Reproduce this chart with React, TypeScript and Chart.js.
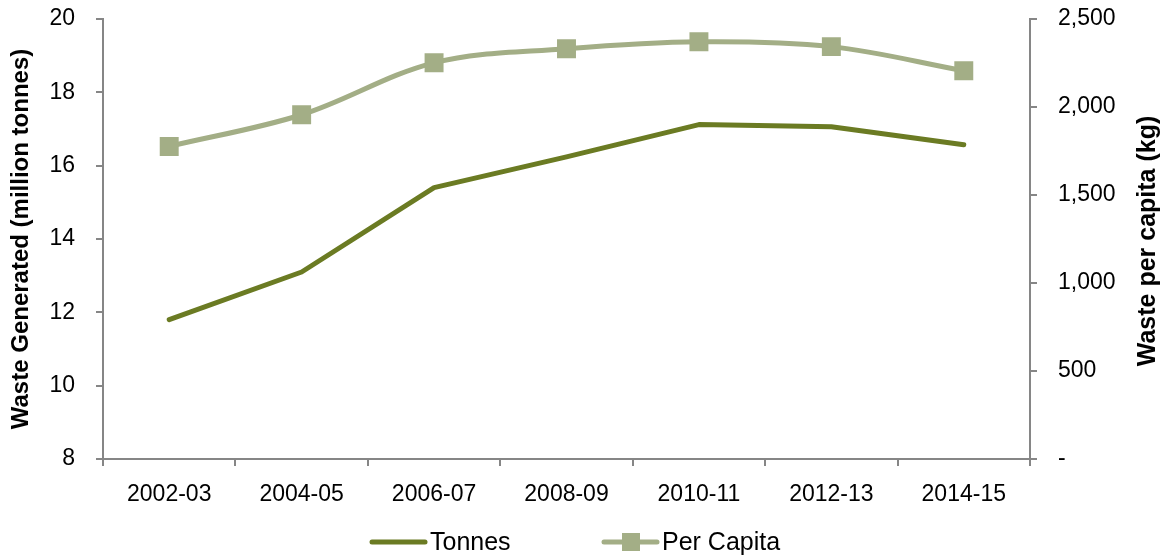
import React, { useEffect, useRef } from "react";
import { Chart, registerables } from "chart.js";

Chart.register(...registerables);

const categories = ["2002-03", "2004-05", "2006-07", "2008-09", "2010-11", "2012-13", "2014-15"];
const tonnes = [11.8, 13.1, 15.4, 16.24, 17.12, 17.06, 16.57];
const perCapita = [1776, 1956, 2251, 2331, 2371, 2343, 2206];
const leftTicks = [8, 10, 12, 14, 16, 18, 20];
const rightTicks = [0, 500, 1000, 1500, 2000, 2500];

const FONT = "'Liberation Sans', Arial, sans-serif";
const DARK = "#6b7b23";
const LIGHT = "#a3ae86";
const AXIS = "#868686";

const customPlugin = {
  id: "customDecor",
  afterDraw(chart: any) {
    const ctx = chart.ctx;
    const area = chart.chartArea;
    ctx.save();
    ctx.fillStyle = "#000";
    ctx.font = `bold 25px ${FONT}`;
    ctx.textAlign = "center";
    ctx.textBaseline = "middle";
    ctx.translate(1148, (area.top + area.bottom) / 2 + 2);
    ctx.rotate(-Math.PI / 2);
    ctx.fillText("Waste per capita (kg)", 0, 0);
    ctx.restore();

    ctx.save();
    const ly = 542;
    ctx.lineCap = "round";
    ctx.lineWidth = 5;
    ctx.strokeStyle = DARK;
    ctx.beginPath();
    ctx.moveTo(372, ly);
    ctx.lineTo(425, ly);
    ctx.stroke();
    ctx.strokeStyle = LIGHT;
    ctx.beginPath();
    ctx.moveTo(604, ly);
    ctx.lineTo(657, ly);
    ctx.stroke();
    ctx.fillStyle = LIGHT;
    ctx.fillRect(631 - 9, ly - 9, 18, 18);
    ctx.fillStyle = "#000";
    ctx.font = `25px ${FONT}`;
    ctx.textAlign = "left";
    ctx.textBaseline = "middle";
    ctx.fillText("Tonnes", 430, ly + 1);
    ctx.fillText("Per Capita", 662, ly + 1);
    ctx.restore();
  },
};

export default function App() {
  const ref = useRef<HTMLCanvasElement | null>(null);
  useEffect(() => {
    if (!ref.current) return;
    const chart = new Chart(ref.current, {
      type: "line",
      data: {
        labels: categories,
        datasets: [
          {
            label: "Tonnes",
            data: tonnes,
            yAxisID: "y",
            borderColor: DARK,
            backgroundColor: DARK,
            borderWidth: 5,
            pointRadius: 0,
            tension: 0,
            borderCapStyle: "round",
            borderJoinStyle: "round",
          },
          {
            label: "Per Capita",
            data: perCapita,
            yAxisID: "y1",
            borderColor: LIGHT,
            backgroundColor: LIGHT,
            borderWidth: 5,
            pointStyle: "rect",
            pointRadius: 13.4,
            pointBorderWidth: 0,
            pointBackgroundColor: LIGHT,
            tension: 0.35,
            borderCapStyle: "round",
          },
        ],
      },
      options: {
        animation: false,
        responsive: false,
        layout: { padding: { top: 19, bottom: 37, left: 0, right: 0 } },
        plugins: { legend: { display: false }, tooltip: { enabled: false } },
        scales: {
          x: {
            type: "category",
            offset: true,
            grid: { display: true, drawOnChartArea: false, drawTicks: true, tickLength: 7, color: AXIS, lineWidth: 2, offset: true },
            border: { display: true, color: AXIS, width: 2 },
            ticks: { color: "#000", font: { family: FONT, size: 23 }, padding: 15, maxRotation: 0, autoSkip: false },
            afterFit: (s: any) => { s.height = 60; s.paddingLeft = 0; s.paddingRight = 0; },
          },
          y: {
            type: "linear",
            position: "left",
            min: 8,
            max: 20,
            afterBuildTicks: (s: any) => { s.ticks = leftTicks.map((v) => ({ value: v })); },
            grid: { display: true, drawOnChartArea: false, tickLength: 7, color: AXIS, lineWidth: 2 },
            border: { display: true, color: AXIS, width: 2 },
            ticks: { color: "#000", font: { family: FONT, size: 23 }, padding: 21 },
            title: { display: true, text: "Waste Generated (million tonnes)", color: "#000", font: { family: FONT, size: 24, weight: "bold" }, padding: { top: 7, bottom: 0 } },
            afterFit: (s: any) => { s.width = 103; s.paddingTop = 0; s.paddingBottom = 0; },
          },
          y1: {
            type: "linear",
            position: "right",
            min: 0,
            max: 2500,
            afterBuildTicks: (s: any) => { s.ticks = rightTicks.map((v) => ({ value: v })); },
            grid: { display: true, drawOnChartArea: false, tickLength: 7, color: AXIS, lineWidth: 2 },
            border: { display: true, color: AXIS, width: 2 },
            ticks: {
              color: "#000",
              font: { family: FONT, size: 23 },
              padding: 21,
              callback: (v: any) => (Number(v) === 0 ? "-" : Number(v).toLocaleString("en-US")),
            },
            afterFit: (s: any) => { s.width = 135; s.paddingTop = 0; s.paddingBottom = 0; },
          },
        },
      },
      plugins: [customPlugin],
    } as any);
    return () => chart.destroy();
  }, []);
  return (
    <div style={{ position: "fixed", left: 0, top: 0, width: 1165, height: 556, background: "#fff" }}>
      <canvas ref={ref} width={1165} height={556} />
    </div>
  );
}
